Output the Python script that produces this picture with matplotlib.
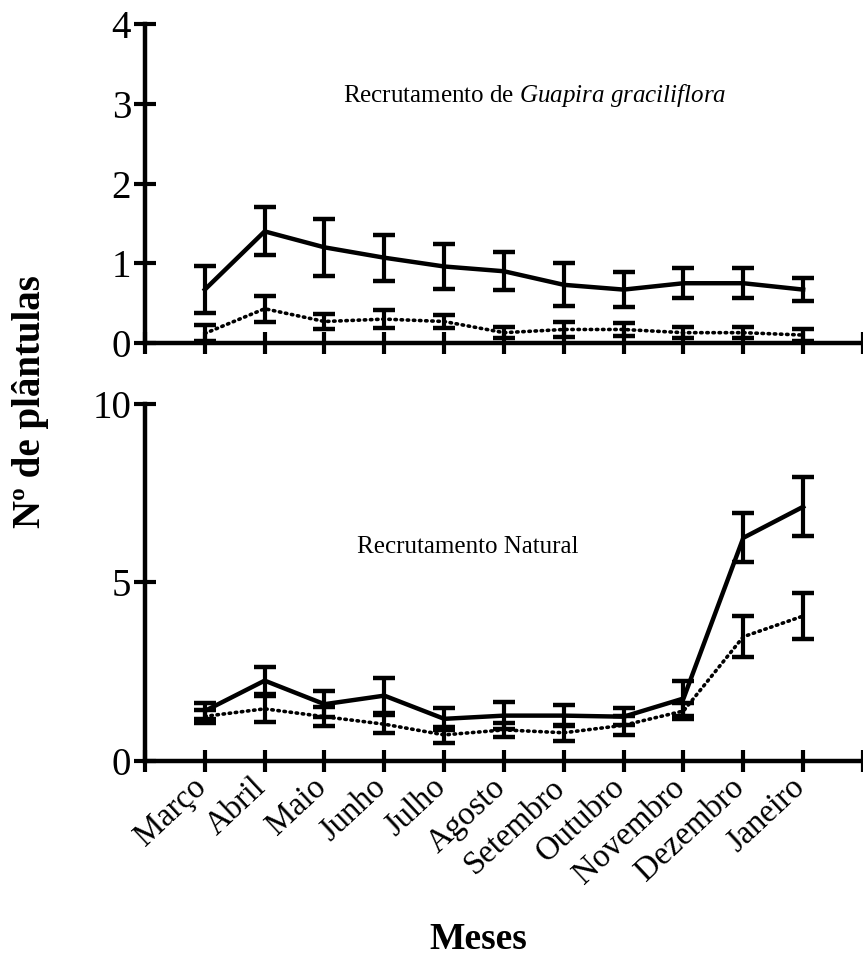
import matplotlib
matplotlib.use("Agg")
import matplotlib.pyplot as plt
from matplotlib.transforms import ScaledTranslation

plt.rcParams['font.family'] = ['Liberation Serif', 'DejaVu Serif']
plt.rcParams['mathtext.fontset'] = 'custom'
plt.rcParams['mathtext.rm'] = 'Liberation Serif'
plt.rcParams['mathtext.it'] = 'Liberation Serif:italic'

meses = ["Março", "Abril", "Maio", "Junho", "Julho", "Agosto", "Setembro",
         "Outubro", "Novembro", "Dezembro", "Janeiro"]
pos = list(range(1, 12))

# Recrutamento de Guapira graciliflora
guapira_a = [0.67, 1.40, 1.20, 1.07, 0.96, 0.90, 0.73, 0.67, 0.75, 0.75, 0.67]
guapira_a_err = [0.29, 0.30, 0.36, 0.29, 0.28, 0.24, 0.27, 0.22, 0.19, 0.19, 0.14]
guapira_b = [0.12, 0.43, 0.27, 0.30, 0.27, 0.13, 0.17, 0.17, 0.13, 0.13, 0.10]
guapira_b_err = [0.10, 0.16, 0.10, 0.11, 0.08, 0.07, 0.09, 0.08, 0.07, 0.07, 0.07]

# Recrutamento natural
natural_a = [1.40, 2.25, 1.59, 1.83, 1.18, 1.27, 1.27, 1.24, 1.75, 6.25, 7.12]
natural_a_err = [0.22, 0.37, 0.37, 0.50, 0.30, 0.37, 0.30, 0.23, 0.50, 0.69, 0.82]
natural_b = [1.25, 1.46, 1.24, 1.03, 0.73, 0.87, 0.79, 1.00, 1.40, 3.48, 4.06]
natural_b_err = [0.18, 0.36, 0.27, 0.25, 0.22, 0.20, 0.23, 0.26, 0.22, 0.58, 0.65]

fig = plt.figure(figsize=(8.63, 9.59), dpi=100)
ax1 = fig.add_axes([0.168, 0.6423, 0.832, 0.3326])
ax2 = fig.add_axes([0.168, 0.2065, 0.832, 0.3723])

dotted = (0, (0.4, 1.3))

def draw(ax, a, a_err, b, b_err):
    ax.errorbar(pos, a, yerr=a_err, color='black', lw=3.2, elinewidth=3,
                capsize=8, capthick=3.2)
    eb = ax.errorbar(pos, b, yerr=b_err, color='black', lw=2.6, elinewidth=3,
                     capsize=8, capthick=3.2, linestyle=dotted)
    eb[0].set_dash_capstyle('round')
    for s in ['top', 'right']:
        ax.spines[s].set_visible(False)
    for s in ['left', 'bottom']:
        ax.spines[s].set_linewidth(3.2)
    ax.set_xlim(0, 11.98)
    ax.set_xticks(range(0, 13))
    ax.tick_params(direction='inout', length=16, width=3, labelsize=28, pad=2)
    ax.patch.set_visible(False)

draw(ax1, guapira_a, guapira_a_err, guapira_b, guapira_b_err)
draw(ax2, natural_a, natural_a_err, natural_b, natural_b_err)

ax1.set_ylim(0, 4)
ax1.set_yticks([0, 1, 2, 3, 4])
ax1.set_xticklabels([])
ax1.text(3.31, 3.11, r"Recrutamento de $\mathit{Guapira\ graciliflora}$",
         fontsize=18, ha='left', va='center')

ax2.set_ylim(0, 10)
ax2.set_yticks([0, 5, 10])
ax2.set_xticklabels([""] + meses + [""], rotation=43, ha='right', va='center',
                    rotation_mode='anchor', fontsize=23.5)
ax2.tick_params(axis='x', pad=8)
shift = ScaledTranslation(-3 / 100, 0, fig.dpi_scale_trans)
for lab in ax2.get_xticklabels():
    lab.set_transform(lab.get_transform() + shift)
ax2.text(3.55, 6.0, "Recrutamento Natural", fontsize=18, ha='left', va='center')

fig.text(0.035, 0.581, "Nº de plântulas", rotation=90, fontsize=28,
         fontweight='bold', ha='center', va='center')
fig.text(0.554, 0.02, "Meses", fontsize=27, fontweight='bold',
         ha='center', va='center')

fig.savefig("out.png", dpi=100)
